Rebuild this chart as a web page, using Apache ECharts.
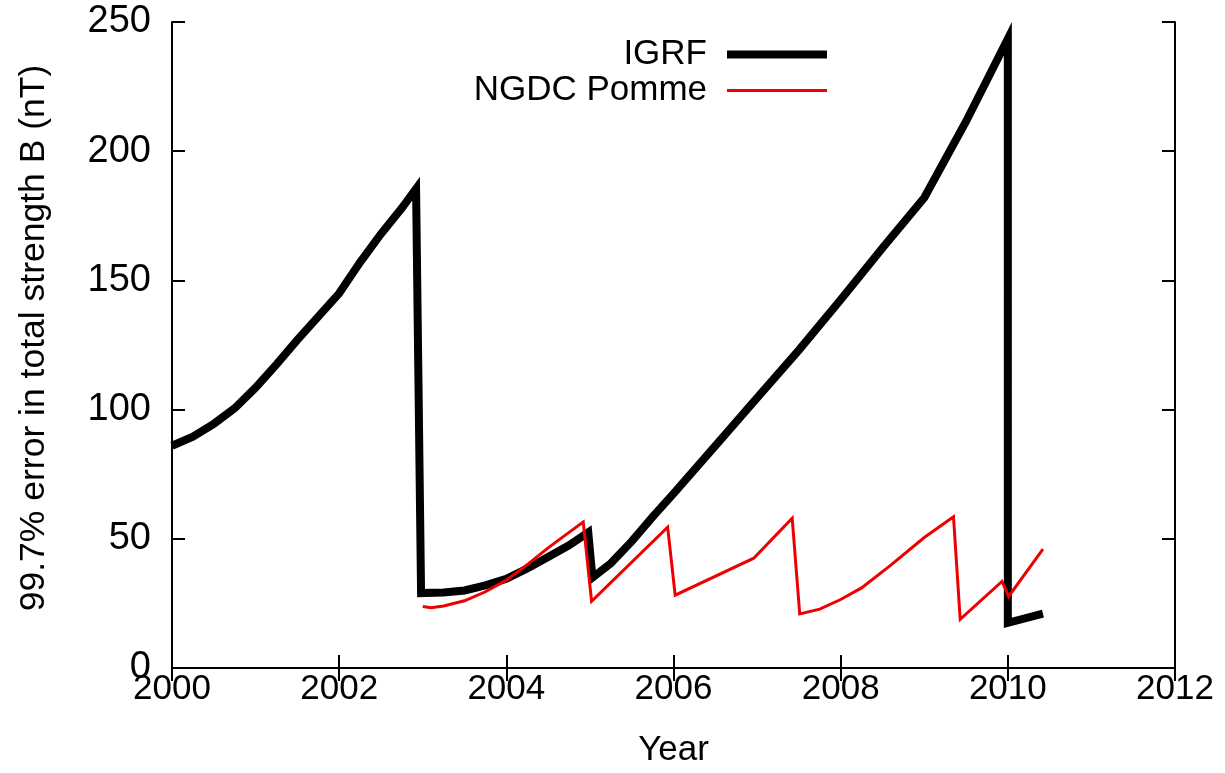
<!DOCTYPE html>
<html>
<head>
<meta charset="utf-8">
<script src="https://cdn.jsdelivr.net/npm/echarts@6/dist/echarts.min.js"></script>
<style>
html,body{margin:0;padding:0;background:#fff;}
#chart{width:1225px;height:773px;}
</style>
</head>
<body>
<div id="chart"></div>
<script>
const xTickLabels = [2000, 2002, 2004, 2006, 2008, 2010, 2012];
const yTickLabels = [0, 50, 100, 150, 200, 250];

const igrfYears = [2000.0, 2000.25, 2000.5, 2000.75, 2001.0, 2001.25, 2001.5, 2001.75, 2002.0, 2002.25, 2002.5, 2002.75, 2002.92,
  2002.98, 2003.25, 2003.5, 2003.75, 2004.0, 2004.25, 2004.5, 2004.75, 2004.98,
  2005.03, 2005.25, 2005.5, 2005.75, 2006.0, 2006.5, 2007.0, 2007.5, 2008.0, 2008.5, 2009.0, 2009.5, 2010.0,
  2010.0, 2010.42];
const igrfValues = [86, 89.5, 94.5, 100.5, 108.5, 117.5, 127, 136, 145, 157, 168, 178, 185.5,
  29, 29.2, 30, 32, 34.5, 38.5, 43, 47.5, 52.5,
  35, 40.5, 49, 58.5, 67.5, 86, 104.5, 123, 142.5, 162.5, 182, 211.5, 243.5,
  17.5, 21];

const pommeYears = [2003.0, 2003.1, 2003.25, 2003.5, 2003.75, 2004.0, 2004.25, 2004.5, 2004.75, 2004.92,
  2005.02, 2005.93, 2006.02, 2006.96, 2007.42, 2007.51, 2007.75, 2008.0, 2008.25, 2008.6, 2009.0, 2009.35,
  2009.43, 2009.93, 2010.01, 2010.42];
const pommeValues = [23.8, 23.3, 24, 26, 29.5, 34, 40, 46.5, 52.5, 56.5,
  25.8, 54.5, 28.2, 42.5, 58, 20.9, 22.8, 26.5, 31, 39.8, 50.5, 58.5,
  18.8, 33.5, 27.7, 46];

const seriesNames = ['IGRF', 'NGDC Pomme'];

function pairs(xs, ys) { return xs.map((x, i) => [x, ys[i]]); }

const FONT = 'Liberation Sans, Arial, Helvetica, sans-serif';
const FS = 35;

const chart = echarts.init(document.getElementById('chart'), null, {renderer: 'canvas'});

const xMin = xTickLabels[0], xMax = xTickLabels[xTickLabels.length - 1];
const xInt = xTickLabels[1] - xTickLabels[0];
const yMin = yTickLabels[0], yMax = yTickLabels[yTickLabels.length - 1];
const yInt = yTickLabels[1] - yTickLabels[0];

const axisLine = {show: true, lineStyle: {color: '#000', width: 2}};
const axisTick = {show: true, inside: true, length: 13, lineStyle: {color: '#000', width: 2}};

function legendFor(name, top, h, color) {
  return {
    orient: 'vertical',
    right: 398,
    top: top,
    padding: 0,
    align: 'right',
    icon: 'rect',
    itemWidth: 100,
    itemHeight: h,
    selectedMode: false,
    data: [name],
    itemStyle: {color: color, borderWidth: 0},
    textStyle: {fontFamily: FONT, fontSize: FS, color: '#000', padding: [0, 15, 0, 0]}
  };
}

chart.setOption({
  animation: false,
  backgroundColor: '#fff',
  grid: {left: 172, right: 50, top: 22, bottom: 102, containLabel: false},
  legend: [
    legendFor(seriesNames[0], 37, 8, '#000'),
    legendFor(seriesNames[1], 73, 3, '#ee0000')
  ],
  xAxis: [{
    type: 'value', min: xMin, max: xMax, interval: xInt,
    name: 'Year', nameLocation: 'middle', nameGap: 65,
    nameTextStyle: {fontFamily: FONT, fontSize: FS, color: '#000'},
    axisLine: axisLine, axisTick: axisTick,
    splitLine: {show: false},
    axisLabel: {fontFamily: FONT, fontSize: FS, color: '#000', margin: 4, formatter: v => String(v)}
  }, {
    type: 'value', position: 'top', min: xMin, max: xMax, interval: xInt,
    axisLine: axisLine, axisTick: axisTick, splitLine: {show: false},
    axisLabel: {show: false}
  }],
  yAxis: [{
    type: 'value', min: yMin, max: yMax, interval: yInt,
    name: '99.7% error in total strength B (nT)', nameLocation: 'middle', nameGap: 120,
    nameTextStyle: {fontFamily: FONT, fontSize: 35.5, color: '#000', padding: [0, 0, 0, 14]},
    axisLine: axisLine, axisTick: axisTick,
    splitLine: {show: false},
    axisLabel: {fontFamily: FONT, fontSize: 38, color: '#000', margin: 21, formatter: v => String(v)}
  }, {
    type: 'value', position: 'right', min: yMin, max: yMax, interval: yInt,
    axisLine: axisLine, axisTick: axisTick, splitLine: {show: false},
    axisLabel: {show: false}
  }],
  series: [{
    name: seriesNames[0], type: 'line', xAxisIndex: 0, yAxisIndex: 0,
    data: pairs(igrfYears, igrfValues),
    symbol: 'none', showSymbol: false,
    lineStyle: {color: '#000', width: 8, join: 'miter', cap: 'butt'},
    itemStyle: {color: '#000'},
    z: 2
  }, {
    name: seriesNames[1], type: 'line', xAxisIndex: 0, yAxisIndex: 0,
    data: pairs(pommeYears, pommeValues),
    symbol: 'none', showSymbol: false,
    lineStyle: {color: '#ee0000', width: 3, join: 'miter'},
    itemStyle: {color: '#ee0000'},
    z: 3
  }]
});
</script>
</body>
</html>
